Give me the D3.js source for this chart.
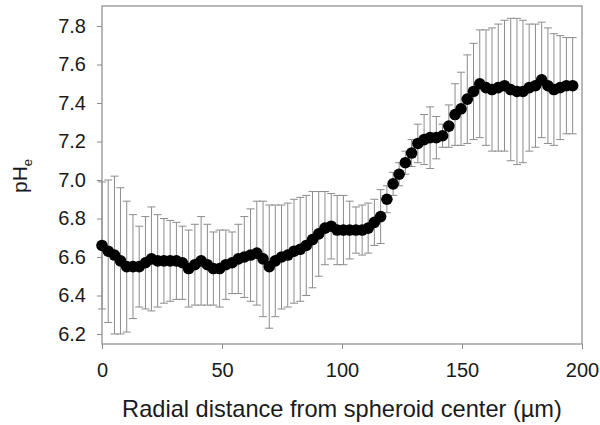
<!DOCTYPE html>
<html>
<head>
<meta charset="utf-8">
<script src="https://d3js.org/d3.v7.min.js"></script>
<style>
body { margin: 0; background: #fff; }
text { font-family: "Liberation Sans", Arial, sans-serif; }
</style>
</head>
<body>
<svg class="chart"></svg>
<script>
// radial distance (um)
var distance = [0, 2.6, 5.2, 7.7, 10.3, 12.9, 15.5, 18.1, 20.6, 23.2,
	25.8, 28.4, 31.0, 33.5, 36.1, 38.7, 41.3, 43.9, 46.4, 49.0,
	51.6, 54.2, 56.8, 59.3, 61.9, 64.5, 67.1, 69.7, 72.2, 74.8,
	77.4, 80.0, 82.6, 85.1, 87.7, 90.3, 92.9, 95.5, 98.0, 100.6,
	103.2, 105.8, 108.4, 110.9, 113.5, 116.1, 118.7, 121.3, 123.8, 126.4,
	129.0, 131.6, 134.2, 136.7, 139.3, 141.9, 144.5, 147.1, 149.6, 152.2,
	154.8, 157.4, 160.0, 162.5, 165.1, 167.7, 170.3, 172.9, 175.4, 178.0,
	180.6, 183.2, 185.8, 188.3, 190.9, 193.5, 196.1];

// mean pHe
var phMean = [6.66, 6.63, 6.61, 6.58, 6.55, 6.55, 6.55, 6.57, 6.59, 6.58,
	6.58, 6.58, 6.58, 6.57, 6.54, 6.56, 6.58, 6.56, 6.54, 6.54,
	6.56, 6.57, 6.59, 6.60, 6.61, 6.62, 6.59, 6.55, 6.58, 6.60,
	6.61, 6.63, 6.64, 6.66, 6.69, 6.72, 6.75, 6.76, 6.74, 6.74,
	6.74, 6.74, 6.74, 6.75, 6.78, 6.81, 6.90, 6.98, 7.03, 7.09,
	7.14, 7.19, 7.21, 7.22, 7.22, 7.23, 7.28, 7.34, 7.37, 7.42,
	7.46, 7.50, 7.48, 7.47, 7.48, 7.49, 7.47, 7.46, 7.46, 7.48,
	7.49, 7.52, 7.49, 7.47, 7.48, 7.49, 7.49];

// error (+/-)
var phSd = [0.33, 0.37, 0.41, 0.38, 0.34, 0.27, 0.21, 0.24, 0.27, 0.24,
	0.22, 0.21, 0.20, 0.19, 0.20, 0.21, 0.23, 0.21, 0.19, 0.20,
	0.18, 0.16, 0.18, 0.21, 0.24, 0.27, 0.30, 0.32, 0.29, 0.27,
	0.27, 0.27, 0.27, 0.26, 0.25, 0.22, 0.19, 0.17, 0.18, 0.18,
	0.15, 0.12, 0.13, 0.13, 0.12, 0.14, 0.07, 0.06, 0.06, 0.06,
	0.07, 0.10, 0.13, 0.16, 0.11, 0.06, 0.11, 0.16, 0.19, 0.23,
	0.25, 0.28, 0.30, 0.32, 0.33, 0.34, 0.37, 0.38, 0.37, 0.33,
	0.32, 0.30, 0.30, 0.29, 0.27, 0.25, 0.25];

var xTicks = [0, 50, 100, 150, 200];
var yTicks = [6.2, 6.4, 6.6, 6.8, 7.0, 7.2, 7.4, 7.6, 7.8];

var svgWidth = 600, svgHeight = 425;
var margin = { top: 6, right: 18, bottom: 81, left: 102 };
var width = svgWidth - margin.left - margin.right;
var height = svgHeight - margin.top - margin.bottom;

var data = [];
for (var i = 0; i < distance.length; i++) {
	data.push({ x: distance[i], m: phMean[i], sd: phSd[i] });
}

var svg = d3.select(".chart")
	.attr("width", svgWidth)
	.attr("height", svgHeight);

var g = svg.append("g")
	.attr("transform", "translate(" + margin.left + "," + margin.top + ")");

var x = d3.scaleLinear().domain([0, 200]).range([0, width]);
var y = d3.scaleLinear().domain([6.148, 7.904]).range([height, 0]);

var axisColor = "#8a8a8a";

// x axis
var gx = g.append("g")
	.attr("transform", "translate(0," + height + ")")
	.call(d3.axisBottom(x).tickValues(xTicks).tickSize(5).tickPadding(14).tickFormat(d3.format("d")));
gx.select(".domain").remove();
gx.selectAll("line").attr("stroke", axisColor);
gx.selectAll("text").attr("fill", "#1a1a1a").style("font-size", "20px");

// y axis
var gy = g.append("g")
	.call(d3.axisLeft(y).tickValues(yTicks).tickSize(5).tickPadding(11).tickFormat(d3.format(".1f")));
gy.select(".domain").remove();
gy.selectAll("line").attr("stroke", axisColor);
gy.selectAll("text").attr("fill", "#1a1a1a").style("font-size", "20px");

// frame
g.append("rect")
	.attr("x", 0)
	.attr("y", 0)
	.attr("width", width)
	.attr("height", height)
	.attr("fill", "none")
	.attr("stroke", axisColor)
	.attr("stroke-width", 1.2);

// error bars
var bars = g.append("g")
	.attr("stroke", "#8c8c8c")
	.attr("stroke-width", 1);

bars.selectAll(".eb")
	.data(data)
	.enter().append("line")
	.attr("x1", function(d) { return x(d.x); })
	.attr("x2", function(d) { return x(d.x); })
	.attr("y1", function(d) { return y(d.m - d.sd); })
	.attr("y2", function(d) { return y(d.m + d.sd); });

bars.selectAll(".capTop")
	.data(data)
	.enter().append("line")
	.attr("x1", function(d) { return x(d.x) - 4; })
	.attr("x2", function(d) { return x(d.x) + 4; })
	.attr("y1", function(d) { return y(d.m + d.sd); })
	.attr("y2", function(d) { return y(d.m + d.sd); });

bars.selectAll(".capBot")
	.data(data)
	.enter().append("line")
	.attr("x1", function(d) { return x(d.x) - 4; })
	.attr("x2", function(d) { return x(d.x) + 4; })
	.attr("y1", function(d) { return y(d.m - d.sd); })
	.attr("y2", function(d) { return y(d.m - d.sd); });

// points
g.append("g")
	.selectAll("circle")
	.data(data)
	.enter().append("circle")
	.attr("cx", function(d) { return x(d.x); })
	.attr("cy", function(d) { return y(d.m); })
	.attr("r", 5.8)
	.attr("fill", "#000");

// axis titles
svg.append("text")
	.attr("x", margin.left + width / 2)
	.attr("y", 417)
	.attr("text-anchor", "middle")
	.attr("fill", "#1a1a1a")
	.style("font-size", "23.6px")
	.text("Radial distance from spheroid center (\u00b5m)");

var yt = svg.append("text")
	.attr("transform", "translate(27,176) rotate(-90)")
	.attr("text-anchor", "middle")
	.attr("fill", "#1a1a1a")
	.style("font-size", "21px");
yt.append("tspan").text("pH");
yt.append("tspan").attr("dy", 5).style("font-size", "13px").text("e");
</script>
</body>
</html>
